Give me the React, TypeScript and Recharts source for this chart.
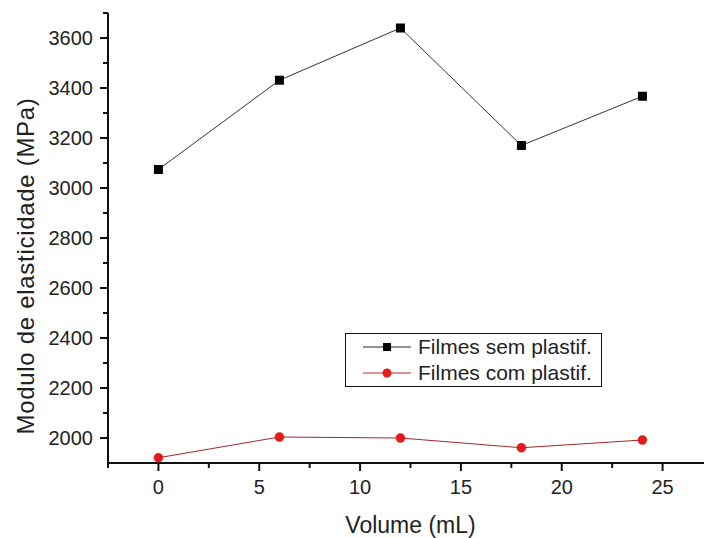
import { LineChart, Line, XAxis, YAxis, Legend } from 'recharts'

const volumes = [0, 6, 12, 18, 24]
const semPlastif = [3074, 3431, 3640, 3170, 3367]
const comPlastif = [1921, 2004, 2000, 1961, 1992]

const xTicks = [-2.5, 0, 2.5, 5, 7.5, 10, 12.5, 15, 17.5, 20, 22.5, 25, 27.5]
const xLabels = [0, 5, 10, 15, 20, 25]
const yTicks = [2000, 2100, 2200, 2300, 2400, 2500, 2600, 2700, 2800, 2900, 3000, 3100, 3200, 3300, 3400, 3500, 3600, 3700]
const yLabels = [2000, 2200, 2400, 2600, 2800, 3000, 3200, 3400, 3600]

const seriesNames = ['Filmes sem plastif.', 'Filmes com plastif.']

const data = volumes.map((v, i) => ({ volume: v, sem: semPlastif[i], com: comPlastif[i] }))

const FONT = '"Liberation Sans", Arial, sans-serif'
const INK = '#111'
const RED = '#e41b1b'

// tick lines are drawn here so major/minor can have different lengths
function XTick({ x, y, payload }: any) {
  const v = payload.value
  const major = xLabels.includes(v)
  const axisY = y - 17
  return (
    <g>
      <line x1={x} x2={x} y1={axisY} y2={axisY + (major ? 8 : 5)} stroke={INK} strokeWidth={2} />
      {major && (
        <text x={x} y={y + 14} textAnchor="middle" fontSize={20} fontFamily={FONT} fill="#222">{v}</text>
      )}
    </g>
  )
}

function YTick({ x, y, payload }: any) {
  const v = payload.value
  const major = yLabels.includes(v)
  const axisX = x + 15
  return (
    <g>
      <line x1={axisX - (major ? 8 : 5)} x2={axisX} y1={y} y2={y} stroke={INK} strokeWidth={2} />
      {major && (
        <text x={x} y={y + 7} textAnchor="end" fontSize={20} fontFamily={FONT} fill="#222">{v}</text>
      )}
    </g>
  )
}

const SquareDot = ({ cx, cy, index }: any) => (
  <rect key={index} x={cx - 4.5} y={cy - 4.5} width={9} height={9} fill="#000" />
)

const legendItems = [
  { name: seriesNames[0], line: '#222', kind: 'square' },
  { name: seriesNames[1], line: '#c0282a', kind: 'circle' },
]

const renderLegend = () => (
  <div style={{
    width: 257, height: 54, boxSizing: 'border-box', border: '1px solid #111',
    background: '#fff', fontFamily: FONT, fontSize: 21, color: '#222',
  }}>
    {legendItems.map((it, i) => (
      <div key={i} style={{ display: 'flex', alignItems: 'center', height: 26 }}>
        <svg width={72} height={20} style={{ flex: 'none' }}>
          <line x1={17} x2={65} y1={10} y2={10} stroke={it.line} strokeWidth={1} />
          {it.kind === 'square'
            ? <rect x={37} y={6} width={8} height={8} fill="#000" />
            : <circle cx={41} cy={10} r={4.5} fill={RED} />}
        </svg>
        <span style={{ whiteSpace: 'nowrap', lineHeight: '20px' }}>{it.name}</span>
      </div>
    ))}
  </div>
)

export default function App() {
  return (
    <div style={{ position: 'absolute', left: 0, top: 0, width: 704, height: 538, overflow: 'hidden', background: '#fff' }}>
      <LineChart width={720} height={538} data={data} margin={{ top: 13, right: 7, left: 0, bottom: 0 }}>
        <XAxis
          dataKey="volume" type="number" domain={[-2.5, 27.5]} ticks={xTicks} interval={0}
          tickSize={8} tickMargin={9} tickLine={false} tick={<XTick />} height={75}
          axisLine={{ stroke: INK, strokeWidth: 2 }}
          label={{ value: 'Volume (mL)', position: 'insideBottom', offset: 5, fontSize: 23, fontFamily: FONT, fill: '#222' }}
        />
        <XAxis
          xAxisId="top" orientation="top" type="number" domain={[-2.5, 27.5]} height={0}
          tick={false} tickLine={false} axisLine={{ stroke: INK, strokeWidth: 2 }}
        />
        <YAxis
          type="number" domain={[1900, 3700]} ticks={yTicks} interval={0} width={108}
          tickSize={8} tickMargin={7} tickLine={false} tick={<YTick />}
          axisLine={{ stroke: INK, strokeWidth: 2 }}
        />
        <text
          x={25} y={266} transform="rotate(-90 25 266)" textAnchor="middle" dominantBaseline="central"
          fontSize={24} letterSpacing={0.7} fontFamily={FONT} fill="#222"
        >
          Modulo de elasticidade (MPa)
        </text>
        <Legend
          layout="horizontal" verticalAlign="middle" align="center"
          wrapperStyle={{ left: 345, top: 333, width: 257, height: 54 }}
          content={renderLegend}
        />
        <Line
          dataKey="sem" name={seriesNames[0]} stroke="#333" strokeWidth={1}
          dot={SquareDot} activeDot={false} isAnimationActive={false}
        />
        <Line
          dataKey="com" name={seriesNames[1]} stroke="#a02a2a" strokeWidth={1}
          dot={{ r: 4.5, fill: RED, stroke: '#d01515', strokeWidth: 0.5 }} activeDot={false} isAnimationActive={false}
        />
      </LineChart>
    </div>
  )
}
